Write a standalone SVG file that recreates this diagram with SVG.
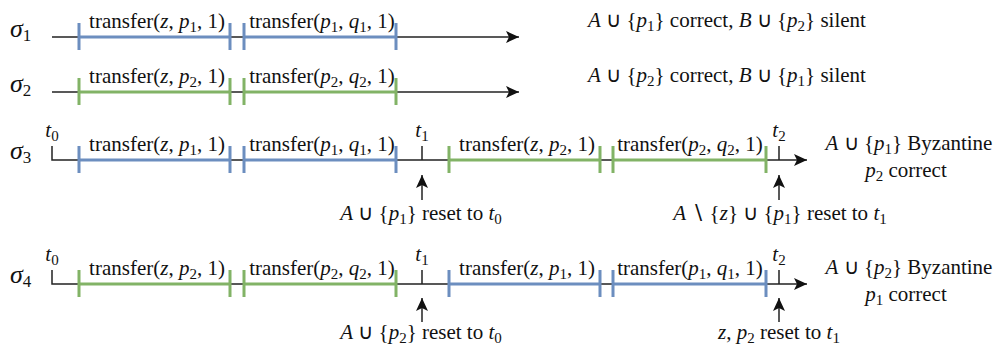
<svg xmlns="http://www.w3.org/2000/svg" width="995" height="347" viewBox="0 0 995 347" font-family="Liberation Serif, Times New Roman, serif">
<defs>
<style>
.t{font-size:21px;fill:#111}
.m{text-anchor:middle}
.i{font-style:italic}
.s{font-size:15px}
.sg{font-size:26px;font-style:italic;fill:#111}
.sgs{font-size:17px;font-style:normal}
.ax{stroke:#222;stroke-width:1.5;fill:none}
.blue{stroke:#6c8ebf;stroke-width:3;fill:none}
.green{stroke:#82b366;stroke-width:3;fill:none}
</style>
<marker id="ah" markerWidth="14" markerHeight="12" refX="13" refY="6" orient="auto" markerUnits="userSpaceOnUse"><path d="M0,0 L13,6 L0,12 L3,6 z" fill="#111"/></marker>
<marker id="ahu" markerWidth="14" markerHeight="13" refX="13" refY="6" orient="auto" markerUnits="userSpaceOnUse"><path d="M0,0 L13,6 L0,12 L3,6 z" fill="#111"/></marker>
</defs>

<g id="connectors">
<path class="ax" d="M52,37 H519" marker-end="url(#ah)"/>
<path class="ax" d="M52,92 H519" marker-end="url(#ah)"/>
<path class="ax" d="M52,146 V160 H807" marker-end="url(#ah)"/>
<path class="ax" d="M422,146 V160 M779,146 V160"/>
<path class="ax" d="M52,270 V284 H807" marker-end="url(#ah)"/>
<path class="ax" d="M422,270 V284 M779,270 V284"/>
<path class="ax" d="M422,200 V175" marker-end="url(#ahu)"/>
<path class="ax" d="M779,200 V175" marker-end="url(#ahu)"/>
<path class="ax" d="M422,322 V298" marker-end="url(#ahu)"/>
<path class="ax" d="M779,322 V298" marker-end="url(#ahu)"/>
</g>

<g id="row-sigma1">
<text class="sg" x="10" y="37">σ<tspan class="sgs" dy="4">1</tspan></text>
<g id="s1-seg1"><path class="blue" d="M79,23 V50 M79,37 H230 M230,23 V50"/>
<text class="t m" x="157" y="28">transfer(<tspan class="i">z</tspan>, <tspan class="i">p</tspan><tspan class="s" dy="4">1</tspan><tspan dy="-4">, 1)</tspan></text></g>
<g id="s1-seg2"><path class="blue" d="M244,23 V50 M244,37 H396 M396,23 V50"/>
<text class="t m" x="322" y="28">transfer(<tspan class="i">p</tspan><tspan class="s" dy="4">1</tspan><tspan dy="-4">, </tspan><tspan class="i">q</tspan><tspan class="s" dy="4">1</tspan><tspan dy="-4">, 1)</tspan></text></g>
<text class="t m" x="727" y="27"><tspan class="i">A</tspan> ∪ {<tspan class="i">p</tspan><tspan class="s" dy="4">1</tspan><tspan dy="-4">} correct, </tspan><tspan class="i">B</tspan> ∪ {<tspan class="i">p</tspan><tspan class="s" dy="4">2</tspan><tspan dy="-4">} silent</tspan></text>
</g>

<g id="row-sigma2">
<text class="sg" x="10" y="92">σ<tspan class="sgs" dy="4">2</tspan></text>
<g id="s2-seg1"><path class="green" d="M79,78 V105 M79,92 H230 M230,78 V105"/>
<text class="t m" x="157" y="83">transfer(<tspan class="i">z</tspan>, <tspan class="i">p</tspan><tspan class="s" dy="4">2</tspan><tspan dy="-4">, 1)</tspan></text></g>
<g id="s2-seg2"><path class="green" d="M244,78 V105 M244,92 H396 M396,78 V105"/>
<text class="t m" x="322" y="83">transfer(<tspan class="i">p</tspan><tspan class="s" dy="4">2</tspan><tspan dy="-4">, </tspan><tspan class="i">q</tspan><tspan class="s" dy="4">2</tspan><tspan dy="-4">, 1)</tspan></text></g>
<text class="t m" x="727" y="82"><tspan class="i">A</tspan> ∪ {<tspan class="i">p</tspan><tspan class="s" dy="4">2</tspan><tspan dy="-4">} correct, </tspan><tspan class="i">B</tspan> ∪ {<tspan class="i">p</tspan><tspan class="s" dy="4">1</tspan><tspan dy="-4">} silent</tspan></text>
</g>

<g id="row-sigma3">
<text class="sg" x="10" y="159">σ<tspan class="sgs" dy="4">3</tspan></text>
<text class="t m" x="52" y="137"><tspan class="i">t</tspan><tspan class="s" dy="4">0</tspan></text>
<text class="t m" x="422" y="137"><tspan class="i">t</tspan><tspan class="s" dy="4">1</tspan></text>
<text class="t m" x="779" y="137"><tspan class="i">t</tspan><tspan class="s" dy="4">2</tspan></text>
<g id="s3-seg1"><path class="blue" d="M79,146 V173 M79,160 H230 M230,146 V173"/>
<text class="t m" x="157" y="151">transfer(<tspan class="i">z</tspan>, <tspan class="i">p</tspan><tspan class="s" dy="4">1</tspan><tspan dy="-4">, 1)</tspan></text></g>
<g id="s3-seg2"><path class="blue" d="M244,146 V173 M244,160 H396 M396,146 V173"/>
<text class="t m" x="322" y="151">transfer(<tspan class="i">p</tspan><tspan class="s" dy="4">1</tspan><tspan dy="-4">, </tspan><tspan class="i">q</tspan><tspan class="s" dy="4">1</tspan><tspan dy="-4">, 1)</tspan></text></g>
<g id="s3-seg3"><path class="green" d="M449,146 V173 M449,160 H600 M600,146 V173"/>
<text class="t m" x="527" y="151">transfer(<tspan class="i">z</tspan>, <tspan class="i">p</tspan><tspan class="s" dy="4">2</tspan><tspan dy="-4">, 1)</tspan></text></g>
<g id="s3-seg4"><path class="green" d="M613,146 V173 M613,160 H766 M766,146 V173"/>
<text class="t m" x="690" y="151">transfer(<tspan class="i">p</tspan><tspan class="s" dy="4">2</tspan><tspan dy="-4">, </tspan><tspan class="i">q</tspan><tspan class="s" dy="4">2</tspan><tspan dy="-4">, 1)</tspan></text></g>
<text class="t m" x="909" y="150"><tspan class="i">A</tspan> ∪ {<tspan class="i">p</tspan><tspan class="s" dy="4">1</tspan><tspan dy="-4">} Byzantine</tspan></text>
<text class="t m" x="906" y="177"><tspan class="i">p</tspan><tspan class="s" dy="4">2</tspan><tspan dy="-4"> correct</tspan></text>
<text class="t m" x="421" y="220"><tspan class="i">A</tspan> ∪ {<tspan class="i">p</tspan><tspan class="s" dy="4">1</tspan><tspan dy="-4">} reset to </tspan><tspan class="i">t</tspan><tspan class="s" dy="4">0</tspan></text>
<text class="t m" x="780" y="220"><tspan class="i">A</tspan> ∖ {<tspan class="i">z</tspan>} ∪ {<tspan class="i">p</tspan><tspan class="s" dy="4">1</tspan><tspan dy="-4">} reset to </tspan><tspan class="i">t</tspan><tspan class="s" dy="4">1</tspan></text>
</g>

<g id="row-sigma4">
<text class="sg" x="10" y="283">σ<tspan class="sgs" dy="4">4</tspan></text>
<text class="t m" x="52" y="261"><tspan class="i">t</tspan><tspan class="s" dy="4">0</tspan></text>
<text class="t m" x="422" y="261"><tspan class="i">t</tspan><tspan class="s" dy="4">1</tspan></text>
<text class="t m" x="779" y="261"><tspan class="i">t</tspan><tspan class="s" dy="4">2</tspan></text>
<g id="s4-seg1"><path class="green" d="M79,270 V297 M79,284 H230 M230,270 V297"/>
<text class="t m" x="157" y="275">transfer(<tspan class="i">z</tspan>, <tspan class="i">p</tspan><tspan class="s" dy="4">2</tspan><tspan dy="-4">, 1)</tspan></text></g>
<g id="s4-seg2"><path class="green" d="M244,270 V297 M244,284 H396 M396,270 V297"/>
<text class="t m" x="322" y="275">transfer(<tspan class="i">p</tspan><tspan class="s" dy="4">2</tspan><tspan dy="-4">, </tspan><tspan class="i">q</tspan><tspan class="s" dy="4">2</tspan><tspan dy="-4">, 1)</tspan></text></g>
<g id="s4-seg3"><path class="blue" d="M449,270 V297 M449,284 H600 M600,270 V297"/>
<text class="t m" x="527" y="275">transfer(<tspan class="i">z</tspan>, <tspan class="i">p</tspan><tspan class="s" dy="4">1</tspan><tspan dy="-4">, 1)</tspan></text></g>
<g id="s4-seg4"><path class="blue" d="M613,270 V297 M613,284 H766 M766,270 V297"/>
<text class="t m" x="690" y="275">transfer(<tspan class="i">p</tspan><tspan class="s" dy="4">1</tspan><tspan dy="-4">, </tspan><tspan class="i">q</tspan><tspan class="s" dy="4">1</tspan><tspan dy="-4">, 1)</tspan></text></g>
<text class="t m" x="909" y="274"><tspan class="i">A</tspan> ∪ {<tspan class="i">p</tspan><tspan class="s" dy="4">2</tspan><tspan dy="-4">} Byzantine</tspan></text>
<text class="t m" x="906" y="301"><tspan class="i">p</tspan><tspan class="s" dy="4">1</tspan><tspan dy="-4"> correct</tspan></text>
<text class="t m" x="421" y="339"><tspan class="i">A</tspan> ∪ {<tspan class="i">p</tspan><tspan class="s" dy="4">2</tspan><tspan dy="-4">} reset to </tspan><tspan class="i">t</tspan><tspan class="s" dy="4">0</tspan></text>
<text class="t m" x="779" y="339"><tspan class="i">z</tspan>, <tspan class="i">p</tspan><tspan class="s" dy="4">2</tspan><tspan dy="-4"> reset to </tspan><tspan class="i">t</tspan><tspan class="s" dy="4">1</tspan></text>
</g>
</svg>
